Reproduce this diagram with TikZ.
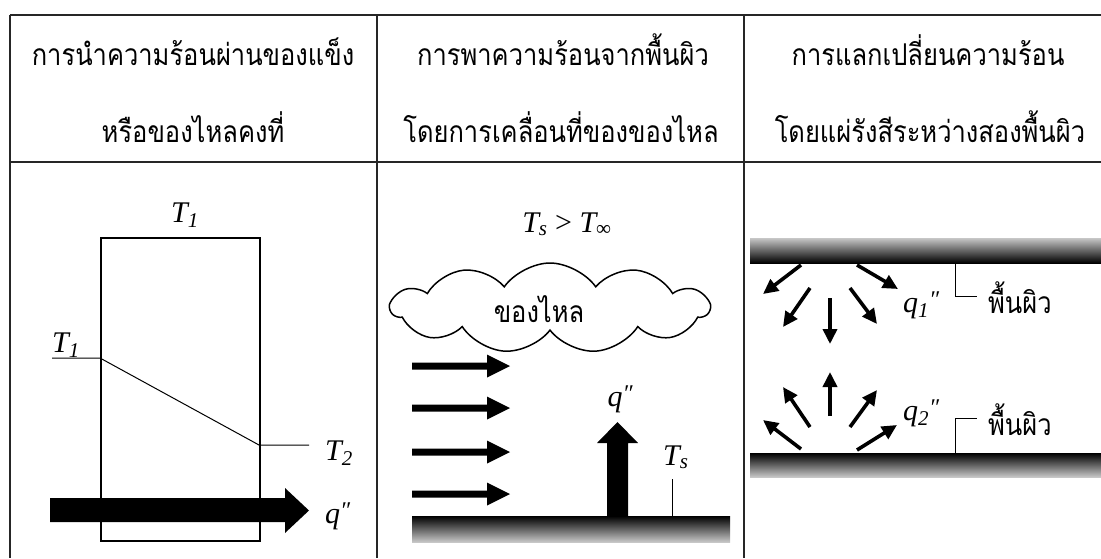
\documentclass[tikz,border=0pt]{standalone}
\usepackage{fontspec}
\setmainfont{Liberation Serif}
\newfontfamily\thaifont[Script=Thai,FakeStretch=0.85]{Loma}
\usetikzlibrary{shapes.symbols,arrows.meta}
\begin{document}
\begin{tikzpicture}[x=1pt,y=-1pt,
  gridline/.style={line width=1.4pt, draw=black!85},
  hdr/.style={font=\thaifont\fontsize{30}{32}\selectfont, anchor=base, inner sep=0pt},
  thailbl/.style={font=\thaifont\fontsize{30}{32}\selectfont, anchor=base west, inner sep=0pt},
  lbl/.style={font=\itshape\fontsize{30}{34}\selectfont, anchor=base west, inner sep=0pt},
  lblc/.style={lbl, anchor=base},
  thin/.style={line width=1pt, draw=black},
  ray/.style={line width=3.6pt, -{Triangle[length=15pt,width=14pt]}}
]
\useasboundingbox (0,0) rectangle (1101,558);
% table grid
\draw[gridline] (10,15) -- (1101,15);
\draw[gridline] (10,162) -- (1101,162);
\draw[gridline] (10,15) -- (10,558);
\draw[gridline] (377,15) -- (377,558);
\draw[gridline] (744,15) -- (744,558);
% headers
\node[hdr] (h1a) at (193,65) {การนำความร้อนผ่านของแข็ง};
\node[hdr] (h1b) at (193,142) {หรือของไหลคงที่};
\node[hdr] (h2a) at (563,65) {การพาความร้อนจากพื้นผิว};
\node[hdr] (h2b) at (561,142) {โดยการเคลื่อนที่ของของไหล};
\node[hdr] (h3a) at (928,65) {การแลกเปลี่ยนความร้อน};
\node[hdr] (h3b) at (930,142) {โดยแผ่รังสีระหว่างสองพื้นผิว};
% ---------- column 1: conduction
\node[draw, line width=1.6pt, minimum width=159pt, minimum height=303pt, inner sep=0pt, anchor=north west] (slab) at (100,237) {};
\fill[black] (50,498) -- (285,498) -- (285,488) -- (309,510.5) -- (285,533) -- (285,522) -- (50,522) -- cycle;
\node[lblc] (t1top) at (185,222) {T\textsubscript{1}};
\node[lbl] (t1left) at (52,352) {T\textsubscript{1}};
\coordinate (pa) at (52,358);
\coordinate (pb) at (100,358);
\coordinate (pc) at (259,445);
\coordinate (pd) at (309,445);
\draw[thin] (pa) -- (pb) -- (pc) -- (pd);
\node[lbl] (t2) at (325,460) {T\textsubscript{2}};
\node[lbl] (q1c) at (325,523) {q\raisebox{5pt}{\fontsize{24}{24}\selectfont″}};
% ---------- column 2: convection
\node[lblc] (tsinf) at (567,232) {T\textsubscript{s} \upshape{>} \itshape T\textsubscript{\upshape ∞}};
\node[cloud, draw, line width=1.5pt, cloud puffs=11, cloud puff arc=110, aspect=3.6, minimum width=318pt, minimum height=90pt, inner sep=0pt] (cloud) at (550,308) {};
\node[thailbl, anchor=base] (fluid) at (539,322) {ของไหล};
\foreach \yy in {366,408,452,494}{
  \fill[black] (412,\yy-3.5) -- (487,\yy-3.5) -- (487,\yy-11.5) -- (510,\yy) -- (487,\yy+11.5) -- (487,\yy+3.5) -- (412,\yy+3.5) -- cycle;
}
\fill[black] (607,518) -- (607,443) -- (597,443) -- (617.5,422) -- (638,443) -- (628,443) -- (628,518) -- cycle;
\node[lblc] (qconv) at (620,406) {q\raisebox{5pt}{\fontsize{24}{24}\selectfont″}};
\node[lbl] (ts) at (663,465) {T\textsubscript{s}};
\coordinate (tsa) at (672,479);
\coordinate (tsb) at (672,516);
\draw[thin] (tsa) -- (tsb);
\shade[top color=black, bottom color=black!22] (412,516) rectangle (730,542);
% ---------- column 3: radiation
\shade[top color=black!22, bottom color=black] (750,238) rectangle (1101,263);
\shade[top color=black, bottom color=black!22] (750,453) rectangle (1101,477);
\coordinate (la1) at (955,263);
\coordinate (la2) at (955,296);
\coordinate (la3) at (977,296);
\coordinate (lb1) at (955,453);
\coordinate (lb2) at (955,418);
\coordinate (lb3) at (977,418);
\draw[thin] (la1) -- (la2) -- (la3);
\draw[thin] (lb1) -- (lb2) -- (lb3);
\node[thailbl] (s1) at (988,313) {พื้นผิว};
\node[thailbl] (s2) at (988,435) {พื้นผิว};
\node[lbl] (q1) at (903,312) {q\textsubscript{1}\raisebox{5pt}{\fontsize{24}{24}\selectfont″}};
\node[lbl] (q2) at (903,420) {q\textsubscript{2}\raisebox{5pt}{\fontsize{24}{24}\selectfont″}};
% rays from top surface
\coordinate (r1a) at (801,265); \coordinate (r1b) at (763,294);
\coordinate (r2a) at (857,265); \coordinate (r2b) at (898,289);
\coordinate (r3a) at (810,288); \coordinate (r3b) at (783,327);
\coordinate (r4a) at (850,288); \coordinate (r4b) at (877,324);
\coordinate (r5a) at (830,298); \coordinate (r5b) at (830,344);
% rays from bottom surface
\coordinate (r6a) at (801,449); \coordinate (r6b) at (763,420);
\coordinate (r7a) at (857,450); \coordinate (r7b) at (897,425);
\coordinate (r8a) at (810,427); \coordinate (r8b) at (783,387);
\coordinate (r9a) at (850,427); \coordinate (r9b) at (877,390);
\coordinate (r10a) at (830,416); \coordinate (r10b) at (830,372);
\foreach \i in {1,...,10}{ \draw[ray] (r\i a) -- (r\i b); }
\end{tikzpicture}
\end{document}
